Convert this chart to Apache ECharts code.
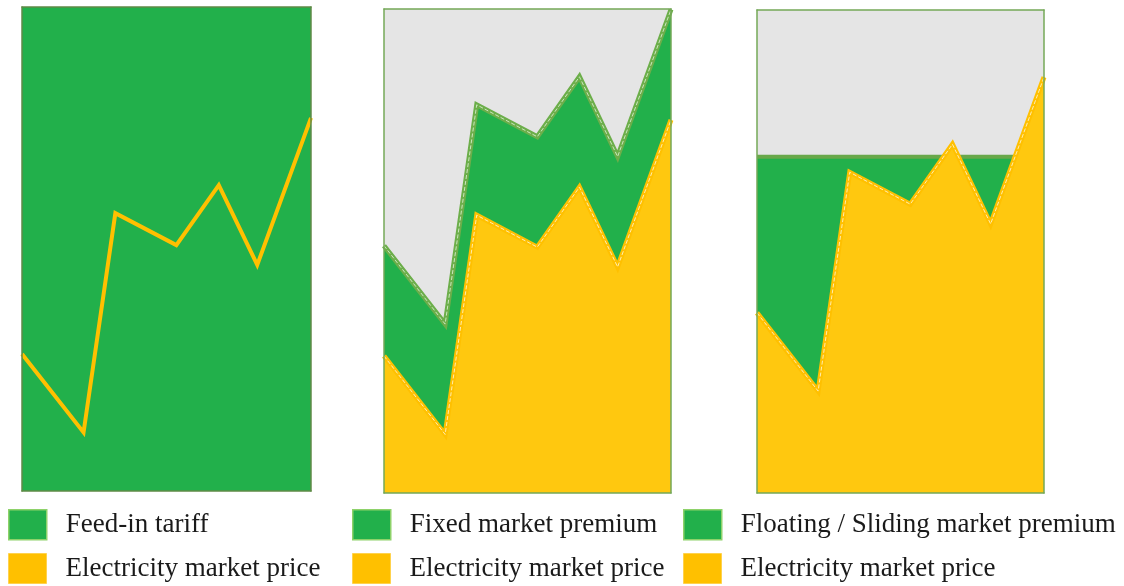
<!DOCTYPE html>
<html>
<head>
<meta charset="utf-8">
<script src="https://cdn.jsdelivr.net/npm/echarts@6/dist/echarts.min.js"></script>
<style>
  html, body { margin: 0; padding: 0; background: #ffffff; }
  #chart { width: 1124px; height: 586px; }
</style>
</head>
<body>
<div id="chart"></div>
<script>
// Time positions (share of the period, 0–100) of the price observations
const timePoints = [0, 21.3, 32.3, 53.4, 68.1, 81.4, 100];
// Electricity market price at each time point (relative units)
const marketPrice = [28.3, 12.1, 57.4, 50.8, 63.2, 46.7, 77.1];
// Feed-in tariff: fixed remuneration level covering the whole range
const feedInTariff = [100, 100, 100, 100, 100, 100, 100];
// Fixed market premium paid on top of the market price
const fixedPremium = [22.8, 22.8, 22.8, 22.8, 22.8, 22.8, 22.8];
// Reference level for the floating / sliding premium
const slidingReference = [60.6, 60.6, 60.6, 60.6, 60.6, 60.6, 60.6];

// Legend labels, one pair per scheme
const legendLabels = [
  ['Feed-in tariff', 'Electricity market price'],
  ['Fixed market premium', 'Electricity market price'],
  ['Floating / Sliding market premium', 'Electricity market price']
];

const GREEN = '#22B04B';
const GREEN_LINE = '#6CAE4A';
const YELLOW_FILL = '#FFC80F';
const YELLOW_LINE = '#FFC000';
const GREY = '#E5E5E5';
const BORDER = '#74A857';
const HIGHLIGHT = 'rgba(255,244,205,0.85)';

const pairs = (vals) => timePoints.map((t, i) => [t, vals[i]]);
// total remuneration = market price + fixed premium
const premiumTop = marketPrice.map((p, i) => p + fixedPremium[i]);

const grids = [
  { left: 22, top: 7, width: 289, height: 484, show: true, backgroundColor: GREEN, borderWidth: 0 },
  { left: 384, top: 9, width: 287, height: 484, show: true, backgroundColor: GREY, borderWidth: 0 },
  { left: 757, top: 10, width: 287, height: 483, show: true, backgroundColor: GREY, borderWidth: 0 }
];

// y ranges per panel (the third panel sits the price curve a little higher)
const yRanges = [[0, 100], [0, 100], [-9, 91]];

const xAxes = [];
const yAxes = [];
grids.forEach((g, i) => {
  const lineColor = i === 0 ? '#5F8A47' : BORDER;
  ['bottom', 'top'].forEach(pos => {
    xAxes.push({
      type: 'value', gridIndex: i, min: 0, max: 100, position: pos, z: 10,
      axisLine: { show: true, onZero: false, lineStyle: { color: lineColor, width: 1.5 } },
      axisTick: { show: false }, axisLabel: { show: false }, splitLine: { show: false }
    });
  });
  ['left', 'right'].forEach(pos => {
    yAxes.push({
      type: 'value', gridIndex: i, min: yRanges[i][0], max: yRanges[i][1], position: pos, z: 10,
      axisLine: { show: true, onZero: false, lineStyle: { color: lineColor, width: 1.5 } },
      axisTick: { show: false }, axisLabel: { show: false }, splitLine: { show: false }
    });
  });
});

const base = { type: 'line', showSymbol: false, symbol: 'none', silent: true, animation: false };

const series = [
  // Panel 1: feed-in tariff
  Object.assign({}, base, {
    name: legendLabels[0][0], xAxisIndex: 0, yAxisIndex: 0, z: 2,
    data: pairs(feedInTariff),
    itemStyle: { color: GREEN },
    lineStyle: { width: 0 },
    areaStyle: { color: GREEN, opacity: 1, origin: 'start' }
  }),
  Object.assign({}, base, {
    name: legendLabels[0][1], xAxisIndex: 0, yAxisIndex: 0, z: 3,
    data: pairs(marketPrice),
    itemStyle: { color: YELLOW_LINE },
    lineStyle: { color: YELLOW_LINE, width: 4, join: 'miter' }
  }),

  // Panel 2: fixed market premium on top of the market price
  Object.assign({}, base, {
    name: legendLabels[1][0], xAxisIndex: 2, yAxisIndex: 2, z: 2,
    data: pairs(premiumTop),
    itemStyle: { color: GREEN },
    lineStyle: { color: GREEN_LINE, width: 5, join: 'miter' },
    areaStyle: { color: GREEN, opacity: 1, origin: 'start' }
  }),
  Object.assign({}, base, {
    name: legendLabels[1][1], xAxisIndex: 2, yAxisIndex: 2, z: 3,
    data: pairs(marketPrice),
    itemStyle: { color: YELLOW_LINE },
    lineStyle: { color: YELLOW_LINE, width: 5, join: 'miter' },
    areaStyle: { color: YELLOW_FILL, opacity: 1, origin: 'start' }
  }),
  Object.assign({}, base, {
    name: 'premium highlight', xAxisIndex: 2, yAxisIndex: 2, z: 4,
    data: pairs(premiumTop),
    lineStyle: { color: 'rgba(220,240,210,0.85)', width: 1, type: [4, 2] }
  }),
  Object.assign({}, base, {
    name: 'price highlight 2', xAxisIndex: 2, yAxisIndex: 2, z: 4,
    data: pairs(marketPrice),
    lineStyle: { color: HIGHLIGHT, width: 1, type: [4, 2] }
  }),

  // Panel 3: floating / sliding market premium up to the reference level
  Object.assign({}, base, {
    name: legendLabels[2][0], xAxisIndex: 4, yAxisIndex: 4, z: 2,
    data: pairs(slidingReference),
    itemStyle: { color: GREEN },
    lineStyle: { color: '#68A84A', width: 4 },
    areaStyle: { color: GREEN, opacity: 1, origin: 'start' }
  }),
  Object.assign({}, base, {
    name: legendLabels[2][1], xAxisIndex: 4, yAxisIndex: 4, z: 3,
    data: pairs(marketPrice),
    itemStyle: { color: YELLOW_LINE },
    lineStyle: { color: YELLOW_LINE, width: 5, join: 'miter' },
    areaStyle: { color: YELLOW_FILL, opacity: 1, origin: 'start' }
  }),
  Object.assign({}, base, {
    name: 'price highlight 3', xAxisIndex: 4, yAxisIndex: 4, z: 4,
    data: pairs(marketPrice),
    lineStyle: { color: HIGHLIGHT, width: 1, type: [4, 2] }
  })
];

// One legend entry per block: two rows under each panel
const legendLefts = [3, 347, 678];
const legendTops = [504, 548];
const swatchStyles = [
  { color: GREEN, borderColor: '#8ED26A', borderWidth: 1.5 },
  { color: YELLOW_LINE, borderColor: '#FFD24D', borderWidth: 1 }
];
const legends = [];
legendLabels.forEach((labels, i) => {
  labels.forEach((label, r) => {
    legends.push({
      left: legendLefts[i], top: legendTops[r],
      orient: 'horizontal',
      icon: 'rect',
      itemWidth: 38, itemHeight: 30,
      selectedMode: false,
      textStyle: {
        fontFamily: 'Liberation Serif', fontSize: 27, color: '#1a1a1a',
        padding: [0, 0, 0, 14]
      },
      data: [{ name: label, itemStyle: swatchStyles[r] }]
    });
  });
});

const chart = echarts.init(document.getElementById('chart'), null, { renderer: 'canvas' });
chart.setOption({
  animation: false,
  backgroundColor: '#ffffff',
  grid: grids,
  xAxis: xAxes,
  yAxis: yAxes,
  legend: legends,
  series: series
});
</script>
</body>
</html>
